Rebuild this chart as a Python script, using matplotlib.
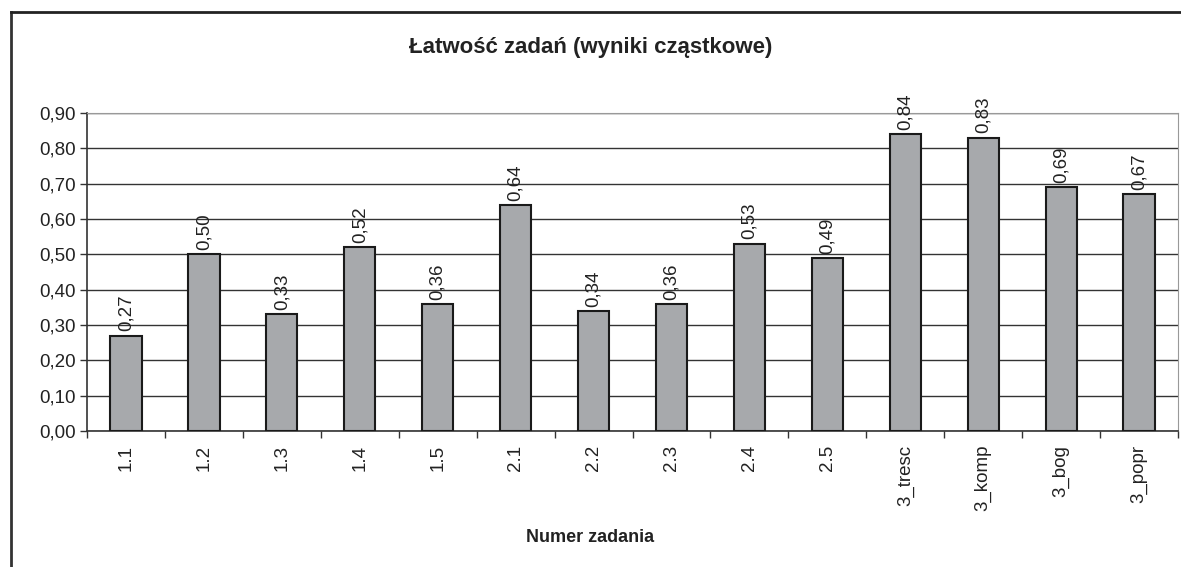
import numpy as np
import matplotlib.pyplot as plt
from matplotlib.lines import Line2D
from matplotlib.ticker import FuncFormatter

categories = ["1.1", "1.2", "1.3", "1.4", "1.5", "2.1", "2.2", "2.3", "2.4", "2.5",
              "3_tresc", "3_komp", "3_bog", "3_popr"]
values = [0.27, 0.50, 0.33, 0.52, 0.36, 0.64, 0.34, 0.36, 0.53, 0.49,
          0.84, 0.83, 0.69, 0.67]

plt.rcParams['font.family'] = ['Liberation Sans', 'DejaVu Sans']

fig = plt.figure(figsize=(11.81, 5.67), dpi=100)
ax = fig.add_axes([0.0737, 0.2399, 0.9238, 0.5608])

x = np.arange(len(categories))
ax.bar(x, values, width=0.4, color='#a7a9ac', edgecolor='#1a1a1a', linewidth=1.5, zorder=3)

for xi, v in zip(x, values):
    ax.text(xi, v + 0.012, f"{v:.2f}".replace('.', ','), rotation=90,
            ha='center', va='bottom', fontsize=13.5, color='#222222')

ax.set_xlim(-0.5, len(categories) - 0.5)
ax.set_ylim(0, 0.9)
ax.set_yticks(np.arange(0, 0.91, 0.1))
ax.yaxis.set_major_formatter(FuncFormatter(lambda v, p: f"{v:.2f}".replace('.', ',')))
ax.yaxis.grid(True, color='#333333', linewidth=1.0, zorder=0)
ax.tick_params(axis='y', labelsize=13.5, length=5, width=1, color='#333333',
               labelcolor='#222222', pad=3)

ax.set_xticks(x)
ax.set_xticklabels(categories, rotation=90, fontsize=13.5, color='#222222')
ax.tick_params(axis='x', length=0, pad=10)
ax.set_xticks(np.arange(-0.5, len(categories)), minor=True)
ax.tick_params(axis='x', which='minor', length=5, width=1, color='#333333')

ax.spines['left'].set_color('#333333')
ax.spines['bottom'].set_color('#333333')
ax.spines['left'].set_linewidth(1.2)
ax.spines['bottom'].set_linewidth(1.2)
ax.spines['top'].set_color('#999999')
ax.spines['right'].set_color('#999999')

fig.text(0.5, 1 - 537 / 567, "Numer zadania", ha='center', va='center',
         fontsize=13, fontweight='bold', color='#222222')
fig.text(0.5, 1 - 47 / 567, "Łatwość zadań (wyniki cząstkowe)", ha='center', va='center',
         fontsize=16, fontweight='bold', color='#222222')

# outer chart border (only left and top edges visible)
fig.add_artist(Line2D([11 / 1181, 11 / 1181], [0, 1 - 12 / 567], color='#333333', linewidth=2))
fig.add_artist(Line2D([11 / 1181, 1], [1 - 12 / 567, 1 - 12 / 567], color='#222222', linewidth=2))

fig.savefig('out.png', dpi=100)
plt.close(fig)
